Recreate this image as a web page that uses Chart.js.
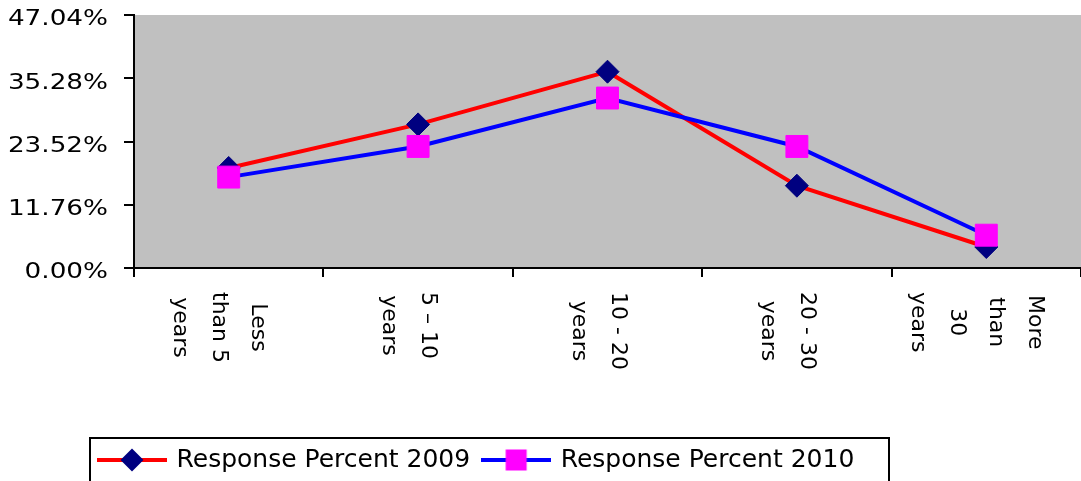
<!DOCTYPE html>
<html>
<head>
<meta charset="utf-8">
<script src="https://cdn.jsdelivr.net/npm/chart.js@4"></script>
<style>
html,body{margin:0;padding:0;background:#fff;overflow:hidden}
#wrap{width:1081px;height:481px;position:relative}
</style>
</head>
<body>
<div id="wrap"><canvas id="c" width="1081" height="481"></canvas></div>
<script>
// ---- data ----
const categories = [
  ["Less", "than 5", "years"],
  ["5 \u2013 10", "years"],
  ["10 - 20", "years"],
  ["20 - 30", "years"],
  ["More", "than", "30", "years"]
];
const seriesNames = ["Response Percent 2009", "Response Percent 2010"];
const series2009 = [18.6, 26.7, 36.5, 15.3, 3.9];
const series2010 = [16.9, 22.6, 31.6, 22.6, 6.1];
const yTickValues = [0, 11.76, 23.52, 35.28, 47.04];

// ---- style ----
const FONT = "'DejaVu Sans', Verdana, sans-serif";
const PLOT_BOTTOM = 268;
const Y_LABEL_RIGHT = 108;

function makeMarker(lineColor, shape, fill) {
  const c = document.createElement('canvas');
  c.width = 70; c.height = 26;
  const g = c.getContext('2d');
  g.fillStyle = lineColor;
  g.fillRect(0, 11, 70, 4);
  g.fillStyle = fill;
  if (shape === 'diamond') {
    g.beginPath();
    g.moveTo(35, 1.5); g.lineTo(46.5, 13); g.lineTo(35, 24.5); g.lineTo(23.5, 13);
    g.closePath(); g.fill();
  } else {
    g.fillRect(24.5, 2.5, 21, 21);
  }
  return c;
}
const legendMarkers = [
  makeMarker('#FF0000', 'diamond', '#000080'),
  makeMarker('#0000FF', 'square', '#FF00FF')
];

const LEG_PAD = 14;

const customPlugin = {
  id: 'custom',
  beforeDraw(chart) {
    const {ctx, chartArea: a} = chart;
    ctx.save();
    ctx.fillStyle = '#C0C0C0';
    ctx.fillRect(a.left, a.top, a.right - a.left, a.bottom - a.top);
    ctx.restore();
    const y = chart.scales.y;
    if (!y._wideWrapped) {
      const orig = y.drawLabels;
      y.drawLabels = function (area) {
        const c = this.ctx;
        c.save();
        c.translate(Y_LABEL_RIGHT, 0);
        c.scale(1.25, 1);
        c.translate(-Y_LABEL_RIGHT, 0);
        orig.call(this, area);
        c.restore();
      };
      y._wideWrapped = true;
    }
  },
  afterLayout(chart) {
    const lg = chart.legend;
    if (lg) {
      lg.left = 100 - LEG_PAD;
      lg.right = 1081;
      lg.top = 447.5 - LEG_PAD;
    }
  },
  afterDraw(chart) {
    const {ctx} = chart;
    const xs = chart.scales.x;
    ctx.save();
    ctx.font = '22px ' + FONT;
    ctx.fillStyle = '#000';
    ctx.textAlign = 'center';
    ctx.textBaseline = 'alphabetic';
    const P = 39, d = -15.5, blockTop = 292;
    categories.forEach((lines, i) => {
      const cx = xs.getPixelForValue(i);
      const n = lines.length;
      const maxLen = Math.max(...lines.map(l => ctx.measureText(l).width));
      lines.forEach((line, k) => {
        const bx = cx + d + P * ((n - 1) / 2 - k);
        ctx.save();
        ctx.translate(bx, blockTop);
        ctx.rotate(Math.PI / 2);
        ctx.fillText(line, maxLen / 2, 0);
        ctx.restore();
      });
    });
    // legend frame
    ctx.strokeStyle = '#000';
    ctx.lineWidth = 2;
    ctx.strokeRect(90, 438, 799, 60);
    ctx.restore();
  }
};

function zeroPad(s) {
  s.paddingTop = 0; s.paddingBottom = 0; s.paddingLeft = 0; s.paddingRight = 0;
}

new Chart(document.getElementById('c'), {
  type: 'line',
  data: {
    labels: categories.map(l => l.join(' ')),
    datasets: [
      {
        label: seriesNames[0],
        data: series2009,
        borderColor: '#FF0000',
        borderWidth: 4,
        backgroundColor: '#000080',
        pointStyle: 'rectRot',
        pointRadius: 11.5,
        pointHoverRadius: 11.5,
        pointBackgroundColor: '#000080',
        pointBorderColor: '#000080',
        pointBorderWidth: 1,
        tension: 0,
        fill: false,
        order: 1
      },
      {
        label: seriesNames[1],
        data: series2010,
        borderColor: '#0000FF',
        borderWidth: 4,
        backgroundColor: '#FF00FF',
        pointStyle: 'rect',
        pointRadius: 15.5,
        pointHoverRadius: 15.5,
        pointBackgroundColor: '#FF00FF',
        pointBorderColor: '#FF00FF',
        pointBorderWidth: 1,
        tension: 0,
        fill: false,
        order: 0
      }
    ]
  },
  options: {
    responsive: false,
    animation: false,
    devicePixelRatio: 1,
    layout: {autoPadding: false, padding: {top: 15, left: 0, right: 0, bottom: 0}},
    plugins: {
      tooltip: {enabled: false},
      legend: {
        display: true,
        position: 'bottom',
        align: 'start',
        labels: {
          usePointStyle: true,
          pointStyleWidth: 64,
          padding: LEG_PAD,
          color: '#000',
          font: {family: FONT, size: 25},
          sort: (a, b) => a.datasetIndex - b.datasetIndex,
          generateLabels(chart) {
            const items = Chart.defaults.plugins.legend.labels.generateLabels(chart);
            items.forEach(it => { it.pointStyle = legendMarkers[it.datasetIndex]; });
            return items;
          }
        }
      }
    },
    scales: {
      x: {
        type: 'category',
        offset: true,
        grid: {offset: true, drawOnChartArea: false, drawTicks: true, tickLength: 9, color: '#000', lineWidth: 2},
        border: {display: true, color: '#000', width: 2},
        ticks: {display: false},
        afterFit(s) {
          const lg = s.chart.legend;
          s.height = 481 - PLOT_BOTTOM - (lg ? lg.height : 0);
          zeroPad(s);
        }
      },
      y: {
        min: 0,
        max: 47.04,
        afterBuildTicks(s) { s.ticks = yTickValues.map(v => ({value: v})); },
        grid: {drawOnChartArea: false, drawTicks: true, tickLength: 10, color: '#000', lineWidth: 2},
        border: {display: true, color: '#000', width: 2},
        ticks: {
          color: '#000',
          font: {family: FONT, size: 21},
          padding: 16,
          labelOffset: 5,
          callback: v => Number(v).toFixed(2) + '%'
        },
        afterFit(s) { s.width = 134; zeroPad(s); }
      }
    }
  },
  plugins: [customPlugin]
});
</script>
</body>
</html>
